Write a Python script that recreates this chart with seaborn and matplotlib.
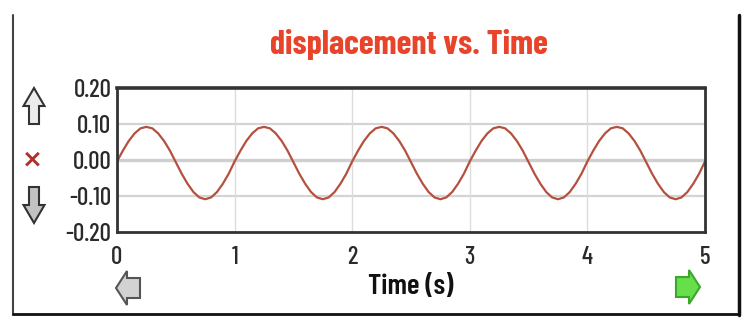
import numpy as np
import pandas as pd
import matplotlib
matplotlib.use("Agg")
import matplotlib.pyplot as plt
import seaborn as sns
from matplotlib.patches import Polygon
from matplotlib.lines import Line2D

# ---- data ----
time_s = [round(0.05 * i, 2) for i in range(101)]
period_vals = [-0.004, 0.026, 0.053, 0.074, 0.088, 0.092, 0.088, 0.074, 0.053, 0.026,
               -0.006, -0.038, -0.066, -0.089, -0.104, -0.109, -0.104, -0.089, -0.066, -0.038]
displacement = (period_vals * 5) + [-0.004]
x_ticks = [0, 1, 2, 3, 4, 5]
y_ticks = [-0.20, -0.10, 0.00, 0.10, 0.20]
y_tick_labels = ["-0.20", "-0.10", "0.00", "0.10", "0.20"]
title = "displacement vs. Time"
x_label = "Time (s)"

df = pd.DataFrame({"t": time_s, "x": displacement})

sns.set_theme(style="white")
FONT = ["Barlow Condensed", "Archivo Narrow", "DejaVu Sans"]
plt.rcParams["font.family"] = FONT

W, H = 746, 328
fig = plt.figure(figsize=(W / 100, H / 100), dpi=100)
fig.patch.set_facecolor("white")
ax = fig.add_axes([117 / W, 1 - 232 / H, (705 - 117) / W, (232 - 88) / H])

sns.lineplot(data=df, x="t", y="x", ax=ax, color="#b5503f", lw=1.6)

ax.set_xlim(0, 5)
ax.set_ylim(-0.20, 0.20)
ax.set_xticks(x_ticks)
ax.set_xticklabels([str(v) for v in x_ticks])
ax.set_yticks(y_ticks)
ax.set_yticklabels(y_tick_labels)
for v in [0.10, -0.10]:
    ax.axhline(v, color="#d4d4d4", lw=1.6, zorder=0)
ax.axhline(0.0, color="#cfcfcf", lw=2.4, zorder=0)
for v in [1, 2, 3, 4]:
    ax.axvline(v, color="#dcdcdc", lw=1.0, zorder=0)

for s in ax.spines.values():
    s.set_color("#333333")
    s.set_linewidth(2.0)
ax.spines["top"].set_linewidth(2.6)

ax.tick_params(axis="both", direction="in", length=5, width=1.3, color="#333333",
               labelsize=18, labelcolor="#2a2a2a")
ax.tick_params(axis="x", pad=10)
ax.tick_params(axis="y", pad=4)
for lab in ax.get_xticklabels() + ax.get_yticklabels():
    lab.set_fontweight("medium")
ax.set_xlabel(x_label, fontsize=21, fontweight="semibold", color="#111111", labelpad=4)
ax.set_ylabel("")

fig.text(409 / W, 1 - 44 / H, title, ha="center", va="center", fontsize=24.5,
         fontweight="bold", color="#e8442b")

# outer frame
fig.add_artist(Line2D([13 / W, 13 / W], [1 - 315 / H, 1 - 15 / H], color="#444444", lw=1.5))
fig.add_artist(Line2D([739 / W, 739 / W], [1 - 315 / H, 1 - 15 / H], color="#111111", lw=2.5))
fig.add_artist(Line2D([13 / W, 739 / W], [1 - 314 / H, 1 - 314 / H], color="#111111", lw=2.0))

def arrow(cx, cy, direction, fill, edge, L, Hw, Hl, Sw):
    # shape in pixel units pointing up (negative y = up on screen), then rotated
    h = L / 2
    pts = np.array([[0, -h], [-Hw / 2, -h + Hl], [-Sw / 2, -h + Hl], [-Sw / 2, h],
                    [Sw / 2, h], [Sw / 2, -h + Hl], [Hw / 2, -h + Hl]], float)
    rot = {"up": 0, "down": 180, "left": 270, "right": 90}[direction]
    th = np.deg2rad(rot)
    R = np.array([[np.cos(th), -np.sin(th)], [np.sin(th), np.cos(th)]])
    pts = pts @ R.T
    px = (cx + pts[:, 0]) / W
    py = 1 - (cy + pts[:, 1]) / H
    fig.add_artist(Polygon(np.c_[px, py], closed=True, facecolor=fill,
                           edgecolor=edge, lw=1.5, transform=fig.transFigure))

arrow(34, 106, "up", "#ececec", "#333333", 36, 21, 18, 10)
arrow(34, 205, "down", "#c2c2c2", "#333333", 36, 21, 18, 10)
arrow(128, 288, "left", "#d2d2d2", "#555555", 24, 34, 11, 20)
arrow(688, 287, "right", "#66df4a", "#3aa82c", 24, 34, 11, 20)
fig.text(32 / W, 1 - 160 / H, "×", ha="center", va="center", fontsize=18,
         fontweight="bold", color="#b0302a", family=["DejaVu Sans"])

fig.savefig("out.png", dpi=100, facecolor="white")
